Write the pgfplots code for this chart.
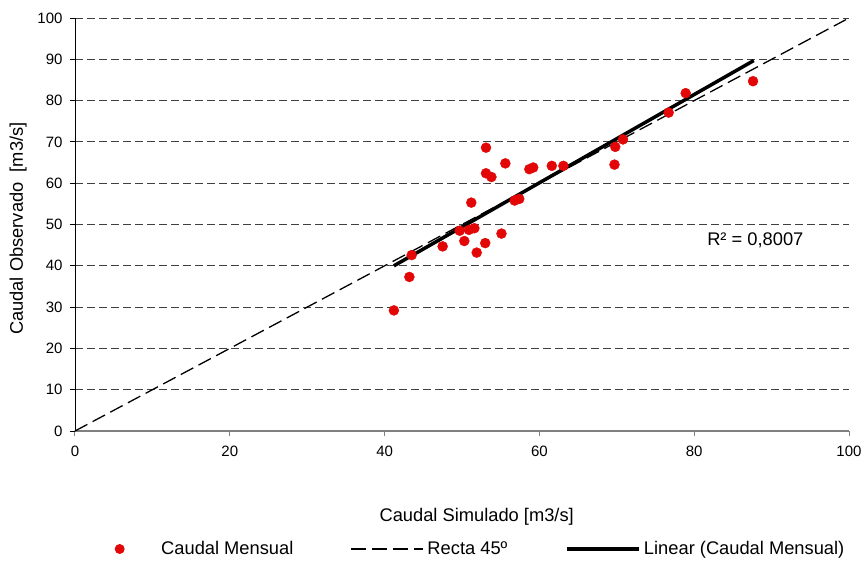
\documentclass[border=0pt]{standalone}
\usepackage{pgfplots}
\pgfplotsset{compat=1.18}
\usepackage{fontspec}
\setmainfont{Liberation Sans}
\definecolor{ptred}{RGB}{226,6,6}
\definecolor{gridc}{RGB}{64,64,64}
\begin{document}
\begin{tikzpicture}
\begin{axis}[
  scale only axis, width=774pt, height=413pt,
  xmin=0, xmax=100, ymin=0, ymax=100,
  xtick={0,20,...,100}, ytick={0,10,...,100},
  axis x line*=bottom, axis y line*=left,
  axis line style={-},
  x axis line style={draw=gray, line width=1.4pt},
  y axis line style={draw=black, line width=0.9pt},
  tick align=outside, major tick length=5pt,
  xtick style={draw=gray, line width=1pt},
  ytick style={draw=black, line width=0.9pt},
  ymajorgrids,
  grid style={draw=gridc, line width=1pt, dash pattern=on 8pt off 4pt},
  /pgf/number format/assume math mode=true,
  tick label style={font=\fontsize{15}{18}\selectfont},
  xticklabel style={yshift=-6pt},
  yticklabel style={xshift=-4pt},
  label style={font=\fontsize{18.3}{22}\selectfont},
  xlabel={Caudal Simulado [m3/s]},
  ylabel={Caudal Observado \ [m3/s]},
  xlabel style={at={(axis description cs:0.519,-0.208)}, anchor=center},
  ylabel style={at={(axis description cs:-0.0736,0.49)}, anchor=center, rotate=0},
  legend columns=3,
  legend style={draw=none, fill=none, at={(axis description cs:0.0071,-0.2857)}, anchor=west,
    font=\fontsize{18.3}{22}\selectfont, inner xsep=3pt,
    nodes={inner xsep=3.5pt, inner ysep=2pt}},
  legend cell align=left,
  clip=false,
]
\addplot[only marks, mark=*, mark size=5pt, mark options={fill=ptred, draw=ptred},
  legend image code/.code={\path[draw=none] (0pt,0pt) -- (72pt,0pt); \fill[ptred, draw=none] (36pt,0pt) circle (5pt);}]
coordinates {
(41.2,29.2) (43.2,37.3) (43.5,42.6) (47.5,44.7) (49.7,48.5) (50.3,46.0)
(50.9,48.7) (51.6,49.1) (51.2,55.3) (51.9,43.2) (53.0,45.5) (53.1,68.6)
(53.1,62.4) (53.8,61.5) (55.1,47.8) (55.6,64.8) (56.8,55.8) (57.4,56.2)
(58.7,63.4) (59.2,63.8) (61.6,64.2) (63.1,64.2) (69.7,64.5) (69.8,68.8)
(70.8,70.6) (76.7,77.1) (78.9,81.8) (87.6,84.7)
};
\addlegendentry{\makebox[188pt][l]{\hspace{2pt}Caudal Mensual}}
\addplot[black, line width=1.3pt, dash pattern=on 14pt off 6pt,
  legend image code/.code={\draw[black, line width=1.3pt, dash pattern=on 15pt off 6pt] (0pt,0pt) -- (72pt,0pt);}]
coordinates {(0,0) (100,100)};
\addlegendentry{\makebox[134pt][l]{Recta 45º}}
\addplot[black, line width=3.5pt,
  legend image code/.code={\draw[black, line width=3.5pt] (0pt,0pt) -- (72pt,0pt);}]
coordinates {(41.2,40.0) (87.7,89.7)};
\addlegendentry{Linear (Caudal Mensual)}
\node[font=\fontsize{18.3}{22}\selectfont] at (axis cs:87.9,46.2) {R² = 0,8007};
\coordinate (bl) at (rel axis cs:0,0);
\coordinate (tr) at (rel axis cs:1,1);
\end{axis}
\pgfresetboundingbox
\path[use as bounding box] ([shift={(-75pt,-132pt)}]bl) rectangle ([shift={(18pt,18pt)}]tr);
\end{tikzpicture}
\end{document}
